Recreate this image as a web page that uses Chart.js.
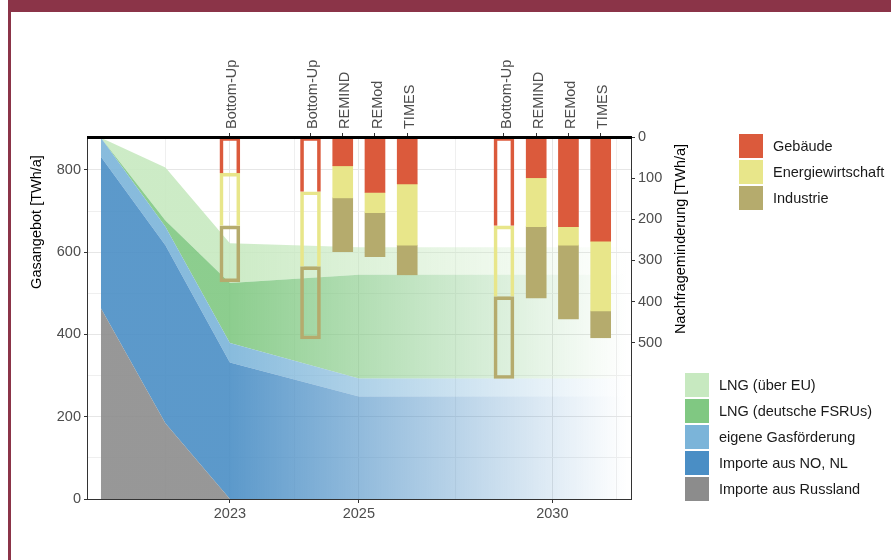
<!DOCTYPE html>
<html>
<head>
<meta charset="utf-8">
<script src="https://cdn.jsdelivr.net/npm/chart.js@4.4.1/dist/chart.umd.min.js"></script>
<style>
  html, body { margin: 0; padding: 0; background: #fff; }
  #wrap { position: relative; width: 891px; height: 560px; overflow: hidden;
          font-family: "Liberation Sans", Arial, sans-serif; }
  #band { position: absolute; left: 8px; top: 0; width: 883px; height: 12px; background: #8b3448; }
  #side { position: absolute; left: 8px; top: 0; width: 3px; height: 560px; background: #8b3448; }
  canvas { position: absolute; left: 0; top: 0; }
  .legend { position: absolute; font-size: 14.5px; color: #1a1a1a; }
  .row { height: 26px; display: flex; align-items: center; white-space: nowrap; }
  .sw { width: 24px; height: 24px; margin-right: 10px; flex: none; }
</style>
</head>
<body>
<div id="wrap">
  <canvas id="chart" width="891" height="560"></canvas>
  <div id="band"></div>
  <div id="side"></div>
  <div class="legend" id="legendDemand" style="left:739px; top:133px;"></div>
  <div class="legend" id="legendSupply" style="left:685px; top:372px;"></div>
</div>
<script>
// Gasangebot (stacked areas), TWh/a
const areaYears = [2021, 2022, 2023, 2025, 2030, 2032];
const importeRussland = [464, 184, 0, 0, 0, 0];
const importeNoNl = [368, 433, 332, 249, 249, 249];
const eigeneFoerderung = [46, 45, 47, 44, 44, 44];
const lngFsru = [0, 15, 146, 252, 252, 252];
const lngEu = [0, 129, 97, 67, 67, 67];

// Nachfrageminderung (stacked bars), TWh/a
const barYears = [2023, 2025, 2025, 2025, 2025, 2030, 2030, 2030, 2030];
const barModels = ['Bottom-Up', 'Bottom-Up', 'REMIND', 'REMod', 'TIMES', 'Bottom-Up', 'REMIND', 'REMod', 'TIMES'];
const gebaeude = [88, 133, 70, 135, 114, 216, 99, 218, 253];
const energiewirtschaft = [128, 182, 78, 49, 149, 172, 119, 45, 170];
const industrie = [136, 176, 131, 107, 72, 199, 173, 179, 65];

// axes
const xLabelYears = [2023, 2025, 2030];
const xGridYears = [2022, 2023, 2024, 2025, 2027.5, 2030, 2031.67];
const leftTicks = [0, 100, 200, 300, 400, 500, 600, 700, 800];
const leftLabels = [0, 200, 400, 600, 800];
const rightTicks = [0, 100, 200, 300, 400, 500];

// the year axis is stretched before 2025
function yearToPos(y) {
  return y <= 2025 ? y - 2021 : 4 + (y - 2025) * 0.6;
}

const barPos = barYears.map((yr, i) => {
  const n = barYears.filter(y => y === yr).length;
  const k = barYears.slice(0, i).filter(y => y === yr).length;
  return yearToPos(yr) + (k - (n - 1) / 2) * 0.5;
});

function rgb(hex) {
  const v = parseInt(hex.slice(1), 16);
  return [(v >> 16) & 255, (v >> 8) & 255, v & 255].join(',');
}

// area fill fades out after 2023
function fade(hex, a0) {
  return (c) => {
    const chart = c.chart;
    if (!chart.chartArea || !chart.scales.x) return 'rgba(' + rgb(hex) + ',' + a0 + ')';
    const xs = chart.scales.x;
    const x0 = xs.getPixelForValue(yearToPos(2023));
    const x1 = xs.getPixelForValue(8.15);
    const g = chart.ctx.createLinearGradient(x0, 0, x1, 0);
    g.addColorStop(0, 'rgba(' + rgb(hex) + ',' + a0 + ')');
    g.addColorStop(1, 'rgba(' + rgb(hex) + ',0)');
    return g;
  };
}

const supply = [
  { label: 'Importe aus Russland', data: importeRussland, color: '#8c8c8c' },
  { label: 'Importe aus NO, NL', data: importeNoNl, color: '#4a8ec5' },
  { label: 'eigene Gasförderung', data: eigeneFoerderung, color: '#7bb4d9' },
  { label: 'LNG (deutsche FSRUs)', data: lngFsru, color: '#80c882' },
  { label: 'LNG (über EU)', data: lngEu, color: '#c7e9c0' }
];
const demand = [
  { label: 'Gebäude', data: gebaeude, color: '#db5a3c' },
  { label: 'Energiewirtschaft', data: energiewirtschaft, color: '#e8e68a' },
  { label: 'Industrie', data: industrie, color: '#b5ab6d' }
];

const areaSets = supply.map((s, i) => ({
  type: 'line',
  label: s.label,
  data: s.data.map((v, j) => ({ x: yearToPos(areaYears[j]), y: v })),
  xAxisID: 'x',
  yAxisID: 'y',
  fill: i === 0 ? 'origin' : '-1',
  backgroundColor: fade(s.color, 0.9),
  borderColor: 'rgba(0,0,0,0)',
  borderWidth: 1,
  pointRadius: 0,
  tension: 0,
  order: 1
}));

const isBU = c => barModels[c.dataIndex] === 'Bottom-Up';
const barSets = demand.map((d, i) => ({
  type: 'bar',
  label: d.label,
  data: d.data.map((v, j) => ({ x: barPos[j], y: v })),
  xAxisID: 'x',
  yAxisID: 'y2',
  stack: 'demand',
  barThickness: 20,
  backgroundColor: c => isBU(c) ? 'rgba(0,0,0,0)' : d.color,
  borderColor: d.color,
  borderWidth: c => isBU(c)
    ? { top: 3, left: 3, right: 3, bottom: i === demand.length - 1 ? 3 : 0 }
    : 0,
  borderSkipped: false,
  order: 0
}));

const tickFont = { family: '"Liberation Sans", Arial, sans-serif', size: 14.5 };
const gridPos = xGridYears.map(yearToPos);
const labelPos = xLabelYears.map(yearToPos);
const isXMajor = c => !!c.tick && labelPos.some(p => Math.abs(p - c.tick.value) < 1e-6);
const isYMajor = c => !!c.tick && leftLabels.includes(c.tick.value);

const panel = {
  id: 'panel',
  afterDatasetsDraw(chart) {
    const { ctx, chartArea: a } = chart;
    ctx.save();
    ctx.strokeStyle = '#333';
    ctx.lineWidth = 1;
    ctx.strokeRect(a.left - 0.5, a.top, a.right - a.left + 1, a.bottom - a.top + 0.5);
    ctx.fillStyle = '#000';
    ctx.fillRect(a.left - 1, a.top - 1, a.right - a.left + 2, 3);
    ctx.font = '14.5px "Liberation Sans", Arial, sans-serif';
    ctx.textAlign = 'center';
    ctx.textBaseline = 'middle';
    ctx.translate(37, 222);
    ctx.rotate(-Math.PI / 2);
    ctx.fillText('Gasangebot [TWh/a]', 0, 0);
    ctx.restore();
    ctx.save();
    ctx.fillStyle = '#000';
    ctx.font = '14.5px "Liberation Sans", Arial, sans-serif';
    ctx.textAlign = 'center';
    ctx.textBaseline = 'middle';
    ctx.translate(681, 239);
    ctx.rotate(-Math.PI / 2);
    ctx.fillText('Nachfrageminderung [TWh/a]', 0, 0);
    ctx.restore();
  }
};

function legend(el, items) {
  el.innerHTML = items.map(it =>
    '<div class="row"><div class="sw" style="background:' + it.color + '"></div>' + it.label + '</div>'
  ).join('');
}
legend(document.getElementById('legendDemand'), demand);
legend(document.getElementById('legendSupply'), supply.slice().reverse());

new Chart(document.getElementById('chart'), {
  data: { datasets: areaSets.concat(barSets) },
  options: {
    responsive: false,
    animation: false,
    events: [],
    layout: { padding: 0, autoPadding: false },
    plugins: { legend: { display: false }, tooltip: { enabled: false } },
    scales: {
      x: {
        type: 'linear',
        position: 'bottom',
        offset: false,
        min: -0.2,
        max: 8.22,
        afterFit: s => { s.height = 61; },
        afterBuildTicks: s => { s.ticks = gridPos.map(v => ({ value: v })); },
        ticks: {
          autoSkip: false,
          maxRotation: 0,
          padding: 2,
          color: '#4d4d4d',
          font: tickFont,
          callback: v => {
            const k = labelPos.findIndex(p => Math.abs(p - v) < 1e-6);
            return k >= 0 ? String(xLabelYears[k]) : '';
          }
        },
        grid: {
          offset: false,
          color: c => isXMajor(c) ? '#e6e6e6' : '#efefef',
          tickLength: 4,
          tickColor: c => isXMajor(c) ? '#333' : 'rgba(0,0,0,0)'
        },
        border: { display: false }
      },
      xTop: {
        type: 'linear',
        position: 'top',
        offset: false,
        min: -0.2,
        max: 8.22,
        afterFit: s => { s.height = 137; },
        afterBuildTicks: s => { s.ticks = barPos.map(v => ({ value: v })); },
        ticks: {
          autoSkip: false,
          minRotation: 90,
          maxRotation: 90,
          padding: 4,
          labelOffset: 20,
          color: '#4d4d4d',
          font: tickFont,
          callback: (v, i) => barModels[i]
        },
        grid: { offset: false, drawOnChartArea: false, tickLength: 4, tickColor: '#333' },
        border: { display: false }
      },
      y: {
        type: 'linear',
        position: 'left',
        stacked: true,
        min: 0,
        max: 880,
        afterFit: s => { s.width = 88; },
        afterBuildTicks: s => { s.ticks = leftTicks.map(v => ({ value: v })); },
        ticks: {
          padding: 3,
          color: '#4d4d4d',
          font: tickFont,
          callback: v => leftLabels.includes(v) ? String(v) : ''
        },
        grid: {
          color: c => isYMajor(c) ? '#e6e6e6' : '#efefef',
          tickLength: 4,
          tickColor: c => isYMajor(c) ? '#333' : 'rgba(0,0,0,0)'
        },
        border: { display: false }
      },
      y2: {
        type: 'linear',
        position: 'right',
        stacked: true,
        reverse: true,
        min: 0,
        max: 880,
        afterFit: s => { s.width = 260; },
        afterBuildTicks: s => { s.ticks = rightTicks.map(v => ({ value: v })); },
        ticks: { padding: 3, color: '#4d4d4d', font: tickFont },
        grid: { drawOnChartArea: false, tickLength: 4, tickColor: '#333' },
        border: { display: false }
      }
    }
  },
  plugins: [panel]
});
</script>
</body>
</html>
